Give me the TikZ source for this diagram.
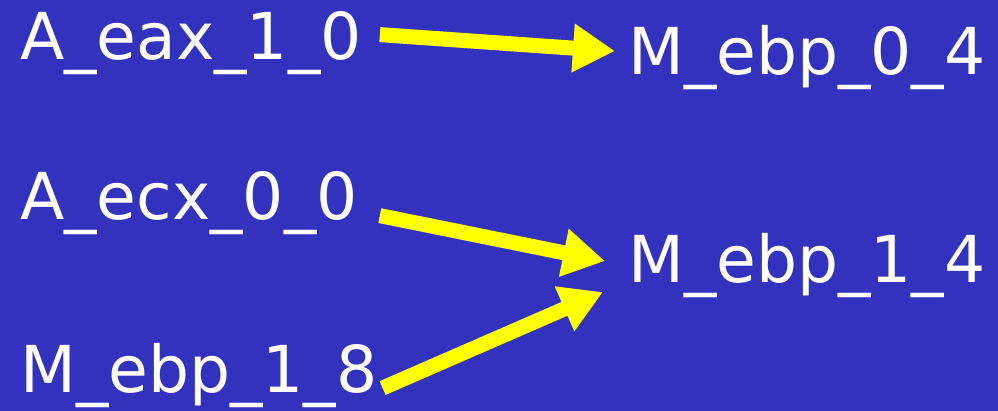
\documentclass[tikz,border=0pt]{standalone}
\usepackage{fontspec}
\setmainfont{DejaVu Sans}
\usetikzlibrary{arrows.meta,calc}
\definecolor{slideblue}{RGB}{50,50,190}
\definecolor{ptryellow}{RGB}{255,255,0}

\begin{document}
\begin{tikzpicture}[x=0.025cm,y=-0.025cm,
  var/.style={text=white, font=\fontsize{46}{50}\selectfont, inner sep=0pt, anchor=base west},
  flow/.style={ptryellow, line width=0.375cm, -{Triangle[width=1.15cm,length=1.05cm]}}]
  % background
  \fill[slideblue] (0,0) rectangle (998,411);

  % abstract locations
  \node[var] (aeax) at (20,60) {A\_eax\_1\_0};
  \node[var] (aecx) at (20,220) {A\_ecx\_0\_0};
  \node[var] (mebp18) at (20,393) {M\_ebp\_1\_8};
  \node[var] (mebp04) at (628,75) {M\_ebp\_0\_4};
  \node[var] (mebp14) at (628,283) {M\_ebp\_1\_4};

  % points-to edges
  \draw[flow] ($(aeax.east)+(18,-9)$) -- ($(mebp04.west)+(-13,-7)$);
  \draw[flow] ($(aecx.east)+(22,12)$) -- ($(mebp14.west)+(-23,-5)$);
  \draw[flow] ($(mebp18.east)+(5,12)$) -- ($(mebp14.west)+(-25,26)$);
\end{tikzpicture}
\end{document}
